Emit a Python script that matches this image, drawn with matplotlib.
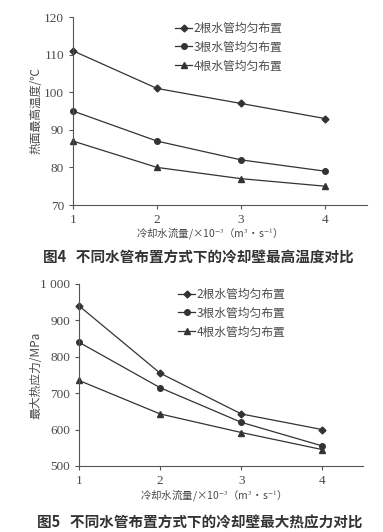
import matplotlib
matplotlib.use("Agg")
import matplotlib.pyplot as plt
from matplotlib.ticker import FuncFormatter

plt.rcParams['font.family'] = ['Liberation Serif', 'Noto Sans CJK SC', 'DejaVu Sans']
plt.rcParams['mathtext.fontset'] = 'stix'

flow = [1, 2, 3, 4]
labels = ['2根水管均匀布置', '3根水管均匀布置', '4根水管均匀布置']
markers = ['D', 'o', '^']
msizes = [3.5, 4, 5]

temp_2 = [111, 101, 97, 93]
temp_3 = [95, 87, 82, 79]
temp_4 = [87, 80, 77, 75]

stress_2 = [940, 755, 643, 600]
stress_3 = [840, 715, 620, 555]
stress_4 = [735, 643, 592, 545]

line_c = '#333333'
text_c = '#4a4a4a'
cjk = ['Noto Sans CJK SC', 'DejaVu Sans']

W, H = 383, 532
fig = plt.figure(figsize=(W / 100, H / 100), dpi=100)
fig.patch.set_facecolor('white')


def px_axes(left, top, right, bottom):
    return fig.add_axes([left / W, 1 - bottom / H, (right - left) / W, (bottom - top) / H])


def style(ax, ylabel, left, right, xlab_x, xlab_y, ylab_x, top, bottom):
    for s in ['top', 'right']:
        ax.spines[s].set_visible(False)
    for s in ['left', 'bottom']:
        ax.spines[s].set_color('#555555')
        ax.spines[s].set_linewidth(0.8)
    ax.tick_params(colors='#555555', labelcolor=text_c, labelsize=9.5, length=3, width=0.8)
    ax.set_xlim(1, 4.5)
    ax.set_xticks(flow)
    ax.set_xlabel(r'冷却水流量/×10$^{-3}$（m$^3$•s$^{-1}$）', family=cjk, fontsize=7.5,
                  color=text_c)
    ax.xaxis.set_label_coords((xlab_x - left) / (right - left), -(xlab_y - bottom) / (bottom - top))
    ax.xaxis.label.set_va('center')
    ax.set_ylabel(ylabel, family=cjk, fontsize=8.5, color=text_c)
    ax.yaxis.set_label_coords(-(left - ylab_x) / (right - left), 0.5)
    ax.yaxis.label.set_va('center')


def legend(ax, x, y):
    ax.legend(loc='upper left', bbox_to_anchor=(x / W, 1 - y / H), bbox_transform=fig.transFigure,
              frameon=False, prop={'family': cjk, 'size': 8.5}, labelcolor=text_c,
              handlelength=1.5, handletextpad=0.1, labelspacing=0.5, borderaxespad=0)


# top chart
L1, T1, R1, B1 = 73, 17, 367, 205
ax1 = px_axes(L1, T1, R1, B1)
for vals, lab, m, ms in zip([temp_2, temp_3, temp_4], labels, markers, msizes):
    ax1.plot(flow, vals, color=line_c, lw=0.9, marker=m, ms=ms, label=lab, clip_on=False)
ax1.set_ylim(70, 120)
ax1.set_yticks(range(70, 121, 10))
style(ax1, '热面最高温度/℃', L1, R1, 207, 233, 36, T1, B1)
legend(ax1, 170, 17)
fig.text(43 / W, 1 - 257 / H, '图4   不同水管布置方式下的冷却壁最高温度对比', family=cjk,
         fontsize=10.5, fontweight='bold', color='#333333', va='center')

# bottom chart
L2, T2, R2, B2 = 79, 284, 363, 466
ax2 = px_axes(L2, T2, R2, B2)
for vals, lab, m, ms in zip([stress_2, stress_3, stress_4], labels, markers, msizes):
    ax2.plot(flow, vals, color=line_c, lw=0.9, marker=m, ms=ms, label=lab, clip_on=False)
ax2.set_ylim(500, 1000)
ax2.set_yticks(range(500, 1001, 100))
ax2.yaxis.set_major_formatter(FuncFormatter(lambda v, p: '1 000' if v == 1000 else f'{int(v)}'))
style(ax2, '最大热应力/MPa', L2, R2, 211, 495, 36, T2, B2)
legend(ax2, 173, 283)
fig.text(37 / W, 1 - 522 / H, '图5   不同水管布置方式下的冷却壁最大热应力对比', family=cjk,
         fontsize=10.5, fontweight='bold', color='#333333', va='center')

fig.savefig('out.png', dpi=100, facecolor='white')
